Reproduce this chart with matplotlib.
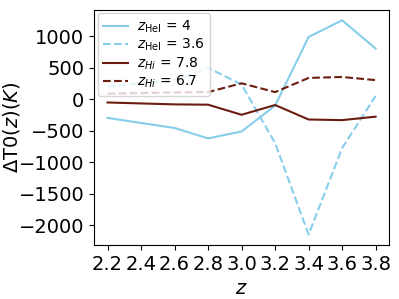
import matplotlib
matplotlib.use('Agg')
import matplotlib.pyplot as plt
import numpy as np

z = [2.2, 2.6, 2.8, 3.0, 3.2, 3.4, 3.6, 3.8]
dT_hei_4 = [-300, -460, -625, -515, -105, 985, 1250, 800]
dT_hei_36 = [200, 300, 495, 230, -700, -2150, -780, 50]
dT_hi_78 = [-55, -85, -90, -250, -95, -325, -335, -280]
dT_hi_67 = [85, 105, 110, 250, 110, 335, 350, 300]

blue = '#87ceeb'
brown = '#6b1d0f'

fig = plt.figure(figsize=(3.99, 2.99), dpi=100)
ax = fig.add_axes([0.236, 0.18, 0.739, 0.788])

ax.plot(z, dT_hei_4, color=blue, lw=1.5, label=r'$z_{\rm HeI}$ = 4')
ax.plot(z, dT_hei_36, color=blue, lw=1.5, ls='--', label=r'$z_{\rm HeI}$ = 3.6')
ax.plot(z, dT_hi_78, color=brown, lw=1.5, label=r'$z_{Hi}$ = 7.8')
ax.plot(z, dT_hi_67, color=brown, lw=1.5, ls='--', label=r'$z_{Hi}$ = 6.7')

ax.set_xticks(np.arange(2.2, 3.81, 0.2))
ax.set_yticks([-2000, -1500, -1000, -500, 0, 500, 1000])
ax.tick_params(labelsize=14)
ax.set_xlabel(r'$z$', fontsize=14)
ax.set_ylabel(r'$\Delta$T0($z$)($K$)', fontsize=14)
ax.yaxis.set_label_coords(-0.244, 0.5)
ax.legend(loc='upper left', fontsize=10, labelspacing=0.15, handlelength=1.8,
          handletextpad=0.6, borderaxespad=0.25)

plt.savefig('out.png', dpi=100)
